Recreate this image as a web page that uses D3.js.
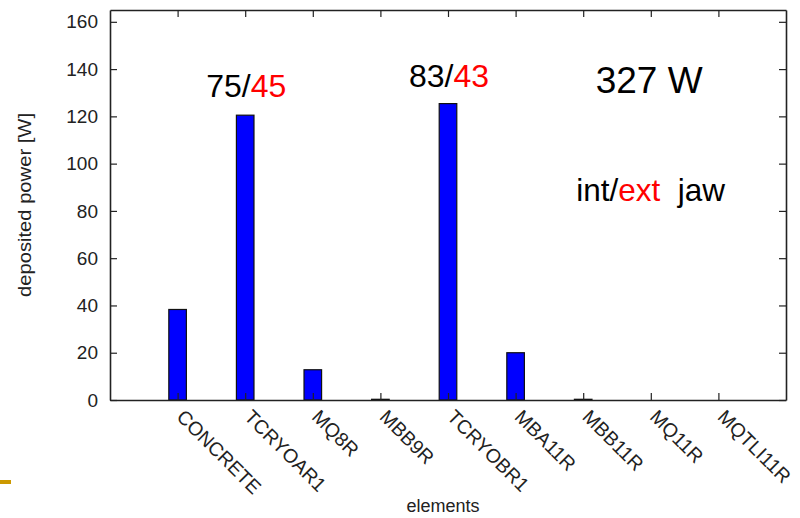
<!DOCTYPE html>
<html>
<head>
<meta charset="utf-8">
<script src="https://cdn.jsdelivr.net/npm/d3@7"></script>
<style>
    body { margin: 0; background: #fff; }
    svg { display: block; font-family: Arial, "Liberation Sans", sans-serif; }
    .axis path, .axis line { stroke: #222; }
</style>
</head>
<body>
<svg id="chart" width="800" height="518"></svg>
<script>
// deposited power per element (W)
const elements = ['CONCRETE', 'TCRYOAR1', 'MQ8R', 'MBB9R', 'TCRYOBR1', 'MBA11R', 'MBB11R', 'MQ11R', 'MQTLI11R'];
const power = [38.3, 120.5, 12.8, 0.3, 125.4, 20.0, 0.3, 0, 0];
const yTickValues = [0, 20, 40, 60, 80, 100, 120, 140, 160];

// annotations: int/ext jaw split above the two collimator bars
const jawNotes = [
    { element: 'TCRYOAR1', value: 128.2, int: '75', ext: '45' },
    { element: 'TCRYOBR1', value: 132.5, int: '83', ext: '43' }
];
const totalNote = '327 W';

const svg = d3.select('#chart');
const font = 'Arial, "Liberation Sans", sans-serif';

// geometry, margin pattern
const width = +svg.attr('width');
const height = +svg.attr('height');
const margin = { top: 10, right: 14, bottom: 118, left: 110 };
const innerWidth = width - margin.left - margin.right;
const innerHeight = height - margin.top - margin.bottom;
const g = svg.append('g')
        .attr('transform', `translate(${margin.left}, ${margin.top})`);

// scales: elements sit on integer positions, range [-1, n]
const xScale = d3.scaleLinear()
        .domain([-1, elements.length])
        .range([0, innerWidth]);
const yScale = d3.scaleLinear()
        .domain([0, 165])
        .range([innerHeight, 0]);
const xPos = name => xScale(elements.indexOf(name));
const barWidth = xScale(0.26) - xScale(0);

// axes, all ticks pointing inwards
const tickSizeInner = -7;
const idx = d3.range(elements.length);
const xAxisBottom = d3.axisBottom(xScale)
        .tickValues(idx)
        .tickSizeInner(tickSizeInner)
        .tickSizeOuter(0);
const xAxisTop = d3.axisTop(xScale)
        .tickValues(idx)
        .tickSizeInner(tickSizeInner)
        .tickSizeOuter(0);
const yAxisLeft = d3.axisLeft(yScale)
        .tickValues(yTickValues)
        .tickSizeInner(tickSizeInner)
        .tickSizeOuter(0)
        .tickPadding(12);
const yAxisRight = d3.axisRight(yScale)
        .tickValues(yTickValues)
        .tickSizeInner(tickSizeInner)
        .tickSizeOuter(0);

// bars (drawn before the axes so the frame sits on top)
g.selectAll('rect.bar')
        .data(elements)
        .enter()
        .append('rect')
        .attr('class', 'bar')
        .attr('x', (d, i) => xScale(i) - barWidth / 2)
        .attr('y', (d, i) => yScale(power[i]))
        .attr('width', barWidth)
        .attr('height', (d, i) => innerHeight - yScale(power[i]))
        .attr('fill', '#0000ff')
        .attr('stroke', '#111')
        .attr('stroke-width', 1.2);

const xAxisBottomG = g.append('g')
        .attr('class', 'axis')
        .attr('transform', `translate(0, ${innerHeight})`)
        .call(xAxisBottom);
const xAxisTopG = g.append('g')
        .attr('class', 'axis')
        .call(xAxisTop);
const yAxisLeftG = g.append('g')
        .attr('class', 'axis')
        .call(yAxisLeft);
const yAxisRightG = g.append('g')
        .attr('class', 'axis')
        .attr('transform', `translate(${innerWidth}, 0)`)
        .call(yAxisRight);
g.selectAll('.axis path').attr('stroke-width', 1.6);
g.selectAll('.axis line').attr('stroke-width', 1.2);

// mirror axes carry ticks only
[xAxisBottomG, xAxisTopG, yAxisRightG].forEach(a => a.selectAll('.tick text').remove());

yAxisLeftG.selectAll('text')
        .attr('font-size', 19)
        .attr('font-family', font)
        .attr('fill', '#222');

// rotated element names
xAxisBottomG.selectAll('text.elem')
        .data(elements)
        .enter()
        .append('text')
        .attr('class', 'elem')
        .attr('transform', (d, i) => `translate(${xScale(i) - 2}, 18) rotate(45)`)
        .attr('text-anchor', 'start')
        .attr('font-size', 19.5)
        .attr('font-family', font)
        .attr('fill', '#222')
        .text(d => d);

// axis labels
xAxisBottomG.append('text')
        .attr('x', xPos('TCRYOBR1') - 5)
        .attr('y', 112)
        .attr('text-anchor', 'middle')
        .attr('font-size', 18)
        .attr('font-family', font)
        .attr('fill', '#222')
        .text('elements');
yAxisLeftG.append('text')
        .attr('transform', 'rotate(-90)')
        .attr('x', -innerHeight / 2)
        .attr('y', -79)
        .attr('text-anchor', 'middle')
        .attr('font-size', 18)
        .attr('font-family', font)
        .attr('textLength', 184)
        .attr('lengthAdjust', 'spacingAndGlyphs')
        .attr('fill', '#222')
        .text('deposited power [W]');

// int/ext annotations above the collimators
jawNotes.forEach(n => {
    const t = g.append('text')
            .attr('x', xPos(n.element) + 1)
            .attr('y', yScale(n.value))
            .attr('text-anchor', 'middle')
            .attr('font-size', 32);
    t.append('tspan').attr('fill', '#000').text(`${n.int}/`);
    t.append('tspan').attr('fill', '#ff0000').text(n.ext);
});

g.append('text')
        .attr('x', xPos('MBB11R') + 66)
        .attr('y', yScale(130))
        .attr('text-anchor', 'middle')
        .attr('font-size', 37)
        .text(totalNote);

const legend = g.append('text')
        .attr('x', xPos('MBB11R') - 7)
        .attr('y', yScale(84))
        .attr('font-size', 31.5)
        .attr('xml:space', 'preserve');
legend.append('tspan').attr('fill', '#000').text('int/');
legend.append('tspan').attr('fill', '#ff0000').text('ext');
legend.append('tspan').attr('fill', '#000').text('  jaw');

// slide decoration at bottom left
svg.append('rect')
        .attr('x', 0)
        .attr('y', 480)
        .attr('width', 11)
        .attr('height', 4)
        .attr('fill', '#cc9900');
</script>
</body>
</html>
